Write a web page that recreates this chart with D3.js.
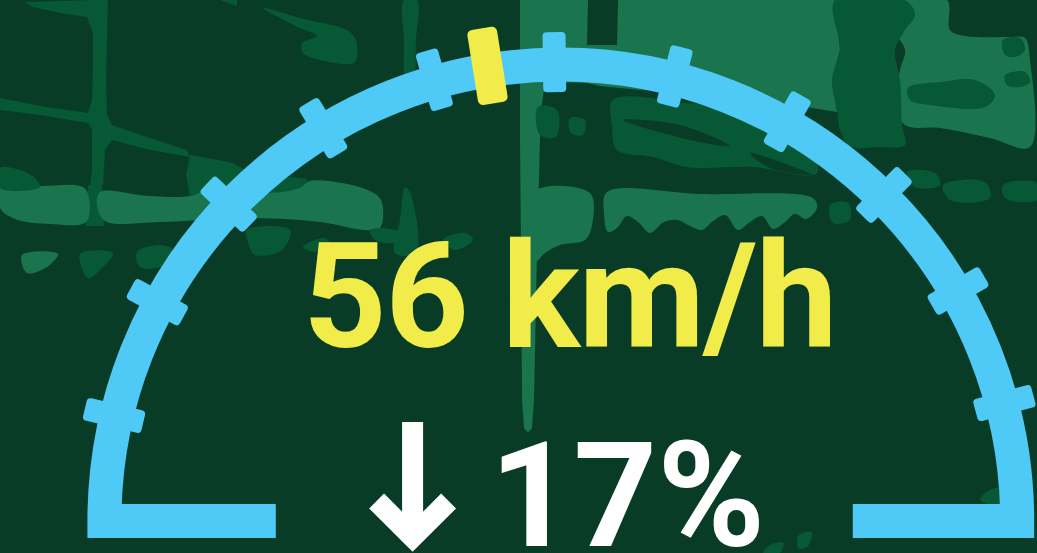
<!DOCTYPE html>
<html>
<head>
<meta charset="utf-8">
<script src="https://cdn.jsdelivr.net/npm/d3@7/dist/d3.min.js"></script>
<style>
  html, body { margin: 0; padding: 0; background: #083c27; overflow: hidden; }
  svg { display: block; }
</style>
</head>
<body>
<svg id="chart" width="1037" height="553"></svg>
<script>
// ---- data ----
const speedValue = 56;             // km/h shown
const speedUnit = "km/h";
const changePct = 17;              // % change (down)
const changeDir = "down";
const gaugeDomain = [0, 120];      // gauge scale
const tickValues = [10, 20, 30, 40, 50, 60, 70, 80, 90, 100, 110];
const markerValue = 54.5;          // yellow marker position

// ---- colours ----
const C = {
  dark: "#083c27", mid: "#075835", light: "#1a744d",
  blue: "#4fc9f5", yellow: "#f2ec4a", white: "#ffffff"
};

const W = 1037, H = 553;
const svg = d3.select("#chart");

// ---- decorative backdrop (aerial map look) ----
const bg = svg.append("g");
bg.append("rect").attr("width", W).attr("height", H).attr("fill", C.dark);
const blob = d3.line().curve(d3.curveCatmullRomClosed.alpha(0.5));
const poly = d3.line().curve(d3.curveLinearClosed);
const backdrop = [
  // medium (drawn first)
  [C.mid, 0, [[88,185],[102,185],[104,226],[86,226]]],
  [C.mid, 0, [[190,155],[230,162],[250,172],[307,179],[305,192],[270,194],[217,188],[190,196],[186,175]]],
  // light
  [C.light, 1, [[0,188],[40,186],[83,187],[89,198],[86,222],[50,224],[15,219],[0,208]]],
  [C.light, 1, [[100,192],[150,196],[190,196],[215,187],[265,193],[300,188],[310,181],[365,189],[381,200],[380,228],[365,230],[320,222],[250,218],[160,222],[105,221],[97,205]]],
  [C.light, 1, [[22,255],[58,254],[47,267],[27,273]]],
  [C.light, 0, [[520,0],[588,0],[587,45],[617,45],[618,0],[835,0],[840,50],[832,80],[837,112],[800,106],[753,98],[700,92],[640,90],[600,86],[587,83],[560,82],[545,84],[541,110],[540,140],[537,250],[534,400],[532,428],[528,433],[524,428],[522,400],[521,250],[520,140]]],
  [C.light, 1, [[533,192],[590,193],[592,225],[585,240],[560,245],[545,253],[535,262]]],
  [C.light, 1, [[607,192],[700,194],[813,198],[817,208],[806,219],[795,214],[785,222],[773,229],[762,216],[750,222],[738,230],[725,215],[712,222],[702,230],[690,226],[678,220],[664,222],[650,233],[638,222],[627,216],[617,228],[608,232],[604,213]]],
  [C.light, 1, [[900,0],[947,0],[950,30],[965,36],[1010,37],[1025,38],[1030,60],[1030,147],[990,138],[940,128],[905,125],[895,100],[900,70],[905,50],[895,30]]],
  // medium on top
  [C.mid, 0, [[93,0],[108,0],[107,40],[106,80],[107,115],[112,125],[150,138],[187,150],[190,157],[150,150],[112,140],[105,150],[103,185],[90,186],[92,170],[92,130],[88,123],[40,115],[0,110],[0,98],[40,106],[88,113],[92,100],[93,60],[93,33],[87,17],[60,13],[33,7],[25,2]]],
  [C.mid, 1, [[0,168],[20,170],[35,178],[40,187],[0,188]]],
  [C.mid, 1, [[263,8],[300,18],[350,32],[357,45],[355,62],[347,64],[320,60],[303,53],[302,43],[317,36],[300,28]]],
  [C.mid, 0, [[220,0],[237,0],[237,6]]],
  [C.mid, 1, [[404,0],[417,0],[416,40],[413,77],[406,77],[404,40]]],
  [C.mid, 1, [[405,187],[410,192],[416,253],[395,253],[400,220]]],
  [C.mid, 1, [[247,230],[290,230],[282,250],[255,255],[249,245]]],
  [C.mid, 1, [[137,252],[160,245],[173,250],[165,265],[140,267]]],
  [C.mid, 1, [[303,247],[325,238],[330,245],[315,252]]],
  [C.mid, 1, [[370,230],[400,232],[398,242],[375,240]]],
  [C.mid, 1, [[80,254],[113,253],[100,270],[88,278]]],
  [C.mid, 1, [[443,240],[465,233],[473,240],[455,250]]],
  [C.mid, 1, [[835,0],[905,0],[915,15],[905,30],[895,50],[900,80],[902,125],[905,145],[880,147],[850,146],[840,130],[837,110],[832,80],[840,50]]],
  [C.mid, 1, [[908,88],[940,82],[975,80],[995,95],[985,107],[930,105],[910,100]]],
  [C.mid, 1, [[1003,40],[1020,38],[1025,50],[1015,57],[1005,55]]],
  [C.mid, 1, [[1005,75],[1025,72],[1030,82],[1020,87],[1007,85]]],
  [C.mid, 1, [[613,100],[687,103],[753,113],[803,133],[817,173],[753,167],[687,167],[653,157],[617,150],[612,127]]],
  [C.dark, 1, [[623,120],[680,125],[730,146],[690,140]]],
  [C.dark, 1, [[750,153],[813,175],[770,168]]],
  [C.mid, 1, [[538,107],[557,110],[556,137],[540,135]]],
  [C.mid, 1, [[570,118],[585,120],[583,135],[571,133]]],
  [C.mid, 1, [[907,172],[935,173],[940,185],[915,187]]],
  [C.mid, 1, [[943,185],[985,182],[990,198],[950,200]]],
  [C.mid, 1, [[1003,185],[1037,183],[1037,200],[1005,198]]],
  [C.mid, 1, [[830,205],[848,203],[850,220],[833,223]]],
  [C.mid, 1, [[980,500],[990,490],[1005,488],[1005,505]]],
  [C.mid, 1, [[798,536],[812,532],[808,546],[799,549]]],
  [C.mid, 1, [[763,553],[770,545],[783,543],[780,553]]]
];
backdrop.forEach(([fill, smooth, pts]) => {
  bg.append("path").attr("d", (smooth ? blob : poly)(pts)).attr("fill", fill);
});

// ---- gauge ----
const cx = 560.8, cy = 521, r = 456.4, band = 34;
const angle = d3.scaleLinear().domain(gaugeDomain).range([-91.9, 90.3]); // degrees from vertical
const g = svg.append("g").attr("transform", `translate(${cx},${cy})`);

const arcPath = d3.path();
arcPath.moveTo(-285, 0);
arcPath.lineTo(-r, 0);
arcPath.arc(0, 0, r, Math.PI, 2 * Math.PI, false);
arcPath.lineTo(292, 0);
g.append("path").attr("d", arcPath.toString())
  .attr("fill", "none").attr("stroke", C.blue).attr("stroke-width", band)
  .attr("stroke-linejoin", "miter").attr("stroke-linecap", "butt");

g.selectAll("rect.tick").data(tickValues).join("rect")
  .attr("class", "tick")
  .attr("x", -11.5).attr("y", -459 - 30).attr("width", 23).attr("height", 60)
  .attr("rx", 4).attr("fill", C.blue)
  .attr("transform", d => `rotate(${angle(d)})`);

g.append("rect")
  .attr("x", -15).attr("y", -461 - 38).attr("width", 30).attr("height", 76)
  .attr("rx", 5).attr("fill", C.yellow)
  .attr("transform", `rotate(${angle(markerValue)})`);

// ---- labels ----
svg.append("text")
  .attr("x", 569.5).attr("y", 347).attr("text-anchor", "middle")
  .attr("font-family", "Roboto, sans-serif").attr("font-weight", 700)
  .attr("font-size", 146).attr("letter-spacing", -1.6).attr("fill", C.yellow)
  .text(`${speedValue} ${speedUnit}`);

// direction arrow icon
const arrow = svg.append("g").attr("transform", "translate(412.6,0)")
  .attr("fill", "none").attr("stroke", C.white).attr("stroke-width", 21)
  .attr("stroke-linejoin", "miter").attr("stroke-linecap", "butt");
const dir = changeDir === "down" ? 1 : -1;
arrow.append("path").attr("d", `M0,422 V534`);
arrow.append("path").attr("d", `M-36,501 L0,537 L36,501`);

svg.append("text")
  .attr("x", 627.5).attr("y", 546).attr("text-anchor", "middle")
  .attr("font-family", "Roboto, sans-serif").attr("font-weight", 700)
  .attr("font-size", 146).attr("fill", C.white)
  .text(`${changePct}%`);
</script>
</body>
</html>
